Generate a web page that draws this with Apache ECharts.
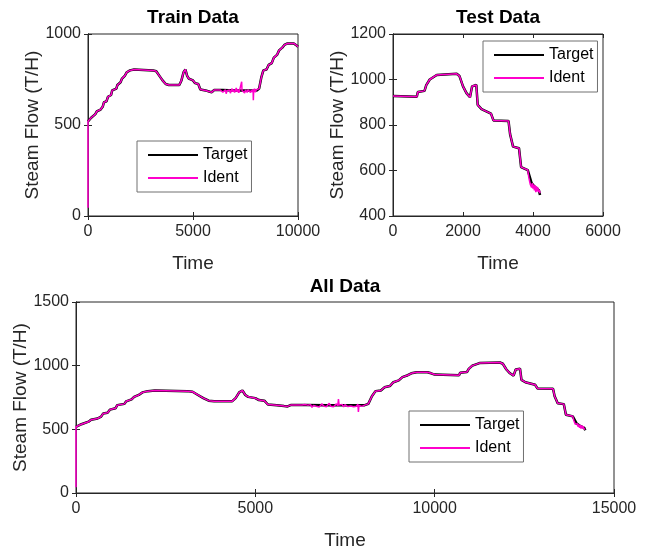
<!DOCTYPE html>
<html>
<head>
<meta charset="utf-8">
<script src="https://cdn.jsdelivr.net/npm/echarts@6/dist/echarts.min.js"></script>
<style>
  html, body { margin: 0; padding: 0; background: #fff; }
  #chart { width: 646px; height: 548px; }
</style>
</head>
<body>
<div id="chart"></div>
<script>
// ---- data ----
const trainTime = [0, 150, 350, 420, 600, 700, 760, 880, 950, 1100, 1150, 1350, 1400, 1550, 1620, 1750, 1850, 2000, 2200, 3100, 3250, 3400, 3550, 3700, 3850, 4350, 4450, 4550, 4640, 4720, 4800, 5000, 5100, 5250, 5350, 5600, 5800, 5900, 6000, 6400, 7000, 7500, 8050, 8150, 8250, 8350, 8500, 8600, 8750, 8850, 9000, 9100, 9250, 9350, 9500, 9800, 9900, 10000];
const trainTarget = [520, 540, 560, 575, 585, 600, 625, 630, 655, 665, 690, 700, 720, 735, 755, 770, 790, 800, 805, 800, 795, 770, 745, 725, 720, 720, 745, 790, 805, 770, 755, 745, 730, 725, 695, 690, 683, 680, 692, 692, 690, 690, 690, 700, 760, 800, 805, 830, 840, 870, 885, 910, 925, 940, 948, 948, 940, 930];

// ident start transient and noisy stretch (train)
const trainIdentStart = [[0, 45]];
const trainNoiseRange = [6280, 8060];
const trainNoiseTime = [6300, 6340, 6380, 6420, 6460, 6500, 6540, 6580, 6620, 6660, 6700, 6740, 6780, 6820, 6860, 6900, 6940, 6980, 7020, 7060, 7100, 7140, 7180, 7220, 7260, 7300, 7317, 7335, 7380, 7420, 7460, 7500, 7540, 7580, 7620, 7660, 7700, 7740, 7780, 7820, 7860, 7873, 7890, 7930, 7970, 8010, 8050];
const trainNoiseVal = [692, 684, 695, 680, 690, 676, 694, 672, 688, 698, 681, 693, 675, 689, 700, 683, 694, 678, 690, 704, 682, 695, 677, 692, 700, 684, 738, 690, 680, 696, 676, 693, 701, 679, 694, 684, 698, 678, 692, 681, 697, 636, 688, 699, 680, 694, 690];

const testTime = [0, 680, 710, 900, 950, 1050, 1250, 1820, 1900, 2000, 2100, 2200, 2260, 2380, 2420, 2530, 2800, 2870, 3300, 3345, 3430, 3600, 3660, 3850, 3960, 4040, 4170, 4200];
const testTarget = [927, 924, 945, 950, 975, 1000, 1020, 1025, 1015, 970, 940, 922, 970, 976, 888, 870, 850, 820, 818, 760, 705, 698, 615, 602, 545, 530, 512, 492];

const testNoiseRange = [3860, 4210];
const testNoiseTime = [3880, 3900, 3920, 3940, 3960, 3980, 4000, 4020, 4040, 4060, 4080, 4100, 4120, 4140, 4160, 4180, 4200];
const testNoiseVal = [570, 555, 540, 548, 525, 545, 520, 538, 512, 535, 505, 530, 508, 525, 505, 515, 500];

const allOffset = 10000; // test data follows train data in "All Data"

// axis ranges and ticks
const trainX = [0, 10000, 5000], trainY = [0, 1000, 500];
const testX = [0, 6000, 2000], testY = [400, 1200, 200];
const allX = [0, 15000, 5000], allY = [0, 1500, 500];

// ---- build series data ----
function pairs(t, v) {
  return t.map((x, i) => [x, v[i]]);
}
function buildIdent(t, v, start, range, nt, nv) {
  const kept = pairs(t, v).filter(p => p[0] < range[0] || p[0] > range[1]);
  const pts = start.concat(kept, pairs(nt, nv));
  return pts.sort((a, b) => a[0] - b[0]);
}

const trainTargetData = pairs(trainTime, trainTarget);
const trainIdentData = buildIdent(trainTime, trainTarget, trainIdentStart, trainNoiseRange, trainNoiseTime, trainNoiseVal);
const testTargetData = pairs(testTime, testTarget);
const testIdentData = buildIdent(testTime, testTarget, [], testNoiseRange, testNoiseTime, testNoiseVal);
const shift = d => d.map(p => [p[0] + allOffset, p[1]]);
const allTargetData = trainTargetData.concat(shift(testTargetData));
const allIdentData = trainIdentData.concat(shift(testIdentData));

// ---- chart ----
const FONT = "'Liberation Sans', Arial, sans-serif";
const AX = '#262626';
const plain = v => String(v);

function xAxes(grid, r) {
  const base = {
    gridIndex: grid, type: 'value', min: r[0], max: r[1], interval: r[2],
    axisLine: { lineStyle: { color: AX } },
    axisTick: { inside: true, length: 4, lineStyle: { color: AX } },
    splitLine: { show: false }
  };
  return [
    Object.assign({}, base, {
      position: 'bottom',
      axisLabel: { fontSize: 16, color: AX, fontFamily: FONT, margin: 8, formatter: plain },
      name: 'Time', nameLocation: 'middle', nameGap: 38, nameMoveOverlap: false,
      nameTextStyle: { fontSize: 19, color: AX, fontFamily: FONT }
    }),
    Object.assign({}, base, { position: 'top', axisLabel: { show: false } })
  ];
}
function yAxes(grid, r) {
  const base = {
    gridIndex: grid, type: 'value', min: r[0], max: r[1], interval: r[2],
    axisLine: { show: true, lineStyle: { color: AX } },
    axisTick: { show: true, inside: true, length: 4, lineStyle: { color: AX } },
    splitLine: { show: false }
  };
  return [
    Object.assign({}, base, {
      position: 'left',
      axisLabel: { fontSize: 16, color: AX, fontFamily: FONT, margin: 7, formatter: plain },
      name: 'Steam Flow (T/H)', nameLocation: 'middle', nameGap: 46, nameRotate: 90,
      nameMoveOverlap: false,
      nameTextStyle: { fontSize: 19, color: AX, fontFamily: FONT }
    }),
    Object.assign({}, base, { position: 'right', axisLabel: { show: false } })
  ];
}
function lines(xi, yi, target, ident) {
  return [
    { name: 'Target', type: 'line', xAxisIndex: xi, yAxisIndex: yi, data: target,
      showSymbol: false, symbol: 'none', lineStyle: { color: '#000', width: 2.5 },
      itemStyle: { color: '#000' }, z: 2 },
    { name: 'Ident', type: 'line', xAxisIndex: xi, yAxisIndex: yi, data: ident,
      showSymbol: false, symbol: 'none', lineStyle: { color: '#ff00cc', width: 1.5 },
      itemStyle: { color: '#ff00cc' }, z: 3 }
  ];
}
function legend(left, top) {
  return {
    data: ['Target', 'Ident'], orient: 'vertical', left: left, top: top,
    itemWidth: 50, itemHeight: 14, itemGap: 7, padding: [6, 4, 6, 10],
    borderColor: '#707070', borderWidth: 1, backgroundColor: '#fff',
    itemStyle: { opacity: 0 },
    textStyle: { fontSize: 16, color: '#000', fontFamily: FONT },
    selectedMode: false
  };
}
function title(text, x, y) {
  return { type: 'text', x: x, y: y,
    style: { text: text, fill: '#000', font: 'bold 19px ' + FONT, textAlign: 'center', textVerticalAlign: 'middle' } };
}

const gridStyle = { show: true, borderColor: AX, borderWidth: 1, backgroundColor: '#fff', outerBoundsMode: 'none' };

const option = {
  backgroundColor: '#fff',
  animation: false,
  grid: [
    Object.assign({ left: 88, top: 34, width: 210, height: 182 }, gridStyle),
    Object.assign({ left: 393, top: 34, width: 210, height: 182 }, gridStyle),
    Object.assign({ left: 76, top: 302, width: 538, height: 191 }, gridStyle)
  ],
  xAxis: [].concat(xAxes(0, trainX), xAxes(1, testX), xAxes(2, allX)),
  yAxis: [].concat(yAxes(0, trainY), yAxes(1, testY), yAxes(2, allY)),
  legend: [legend(137, 141), legend(483, 41), legend(409, 411)],
  graphic: [
    title('Train Data', 193, 18),
    title('Test Data', 498, 18),
    title('All Data', 345, 287)
  ],
  series: [].concat(
    lines(0, 0, trainTargetData, trainIdentData),
    lines(2, 2, testTargetData, testIdentData),
    lines(4, 4, allTargetData, allIdentData)
  )
};

const chart = echarts.init(document.getElementById('chart'));
chart.setOption(option);
</script>
</body>
</html>
